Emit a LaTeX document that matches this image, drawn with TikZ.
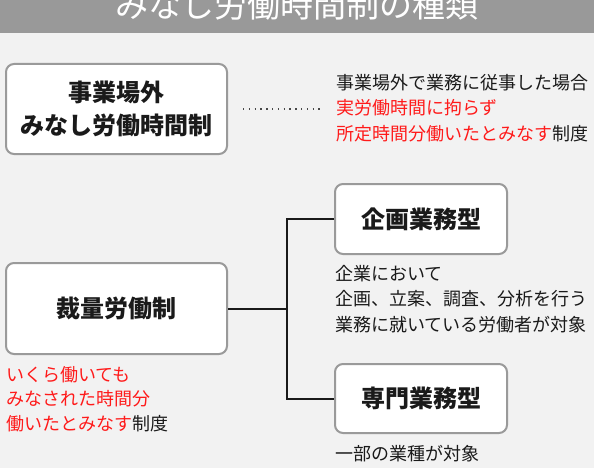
\documentclass[tikz,border=0pt]{standalone}
\usepackage{fontspec}
\setmainfont{Noto Sans CJK JP}
\definecolor{bg}{HTML}{F2F2F2}
\definecolor{banner}{HTML}{999999}
\definecolor{boxgray}{HTML}{9A9A9A}
\definecolor{ink}{HTML}{1A1A1A}
\definecolor{hl}{HTML}{FF1A1A}
\begin{document}
\begin{tikzpicture}[x=1pt,y=-1pt,
  box/.style={draw=boxgray, line width=2pt, rounded corners=8pt, fill=white,
    inner sep=0pt, align=center, text=ink,
    font=\fontsize{24}{33}\selectfont\bfseries},
  note/.style={anchor=base west, inner sep=0pt, text=ink,
    font=\fontsize{18}{25}\selectfont},
  conn/.style={draw=ink, line width=2pt},
  dots/.style={draw=ink!80, line width=1.3pt, dash pattern=on 1.3pt off 4.5pt}]
\useasboundingbox (0,0) rectangle (594,468);
\fill[bg] (0,0) rectangle (594,468);
\fill[banner] (0,0) rectangle (594,33);
\node[anchor=base, inner sep=0pt, text=white, font=\fontsize{33}{33}\selectfont] (title) at (297,17.5) {みなし労働時間制の種類};

\node[box, minimum width=221pt, minimum height=90pt] (b1) at (116.5,109) {事業場外\\みなし労働時間制};
\node[box, minimum width=221pt, minimum height=91pt] (b2) at (116.5,308.5) {裁量労働制};
\node[box, minimum width=172pt, minimum height=70pt] (b3) at (421,219) {企画業務型};
\node[box, minimum width=172pt, minimum height=69pt] (b4) at (421,398.5) {専門業務型};

\coordinate (d1) at (243,109);
\coordinate (d2) at (320,109);
\draw[dots] (d1) -- (d2);

\node[note] (t1) at (336,90) {事業場外で業務に従事した場合};
\node[note] (t2) at (336,115) {\color{hl}実労働時間に拘らず};
\node[note] (t3) at (336,141) {{\color{hl}所定時間分働いたとみなす}制度};

\node[note] (l1) at (6,381) {\color{hl}いくら働いても};
\node[note] (l2) at (6,405.5) {\color{hl}みなされた時間分};
\node[note] (l3) at (6,430) {{\color{hl}働いたとみなす}制度};

\node[note] (k1) at (335,280) {企業において};
\node[note] (k2) at (335,305.5) {企画、立案、調査、分析を行う};
\node[note] (k3) at (335,331) {業務に就いている労働者が対象};

\node[note] (s1) at (335,460) {一部の業種が対象};

\coordinate (j) at (287,308.5);
\draw[conn] (b2.east) -- (j);
\draw[conn] (b3.west) -| (j) |- (b4.west);
\end{tikzpicture}
\end{document}
